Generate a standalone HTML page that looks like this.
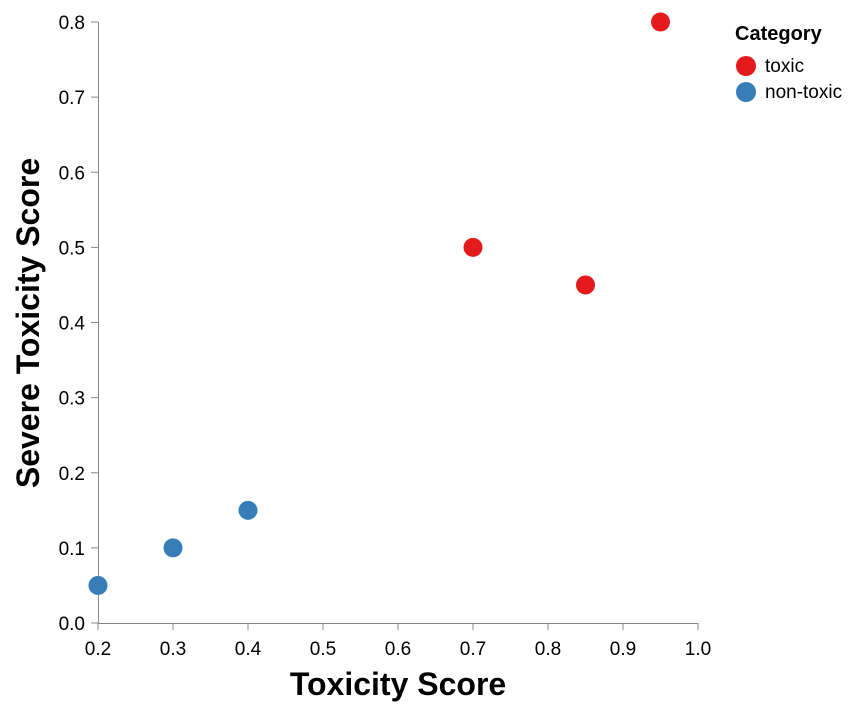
<!DOCTYPE html>
<html><head><meta charset="utf-8"><style>body{margin:0;background:#fff}svg{font-family:"Liberation Sans",Arial,sans-serif}</style></head>
<body>
<svg width="858" height="708" id="chart">
<g id="axes"></g><g id="marks"></g>
<text x="398" y="695" text-anchor="middle" font-size="32" font-weight="bold" fill="#000">Toxicity Score</text>
<text transform="translate(39,323) rotate(-90)" text-anchor="middle" font-size="32" font-weight="bold" fill="#000">Severe Toxicity Score</text>
<g>
<text x="735" y="40" font-size="20" font-weight="bold">Category</text>
<circle cx="746" cy="66" r="10" fill="#e41a1c"/>
<text x="765" y="72" font-size="19">toxic</text>
<circle cx="746" cy="92" r="10" fill="#377eb8"/>
<text x="765" y="98" font-size="19">non-toxic</text>
</g>
</svg>
<script>
const xValues=[0.2,0.3,0.4,0.7,0.85,0.95];
const yValues=[0.05,0.1,0.15,0.5,0.45,0.8];
const categories=["non-toxic","non-toxic","non-toxic","toxic","toxic","toxic"];
const xTicks=[0.2,0.3,0.4,0.5,0.6,0.7,0.8,0.9,1.0];
const yTicks=[0,0.1,0.2,0.3,0.4,0.5,0.6,0.7,0.8];
const NS="http://www.w3.org/2000/svg";
const X=v=>98+(v-0.2)*750, Y=v=>623-v*751.25;
const colors={"toxic":"#e41a1c","non-toxic":"#377eb8"};
const ax=document.getElementById('axes'), mk=document.getElementById('marks');
function el(t,a,p){const e=document.createElementNS(NS,t);for(const k in a)e.setAttribute(k,a[k]);p.appendChild(e);return e;}
const xl=el('line',{x1:98,x2:698,y1:623.5,y2:623.5,stroke:'#888'},ax);


const yl=el('line',{x1:98.5,x2:98.5,y1:22,y2:623,stroke:'#888'},ax);


xTicks.forEach(t=>{const x=X(t);
el('line',{x1:x,x2:x,y1:623,y2:630,stroke:'#888'},ax);
const tx=el('text',{x:x,y:655,'text-anchor':'middle','font-size':19,fill:'#000'},ax);tx.textContent=t.toFixed(1);

});
yTicks.forEach(t=>{const y=Y(t);
el('line',{x1:91,x2:98,y1:y,y2:y,stroke:'#888'},ax);
const tx=el('text',{x:85,y:y+7,'text-anchor':'end','font-size':19,fill:'#000'},ax);tx.textContent=t.toFixed(1);

});
xValues.forEach((v,i)=>{const c=el('circle',{cx:X(v),cy:Y(yValues[i]),r:9.5,fill:colors[categories[i]]},mk);

});
</script>
</body></html>
